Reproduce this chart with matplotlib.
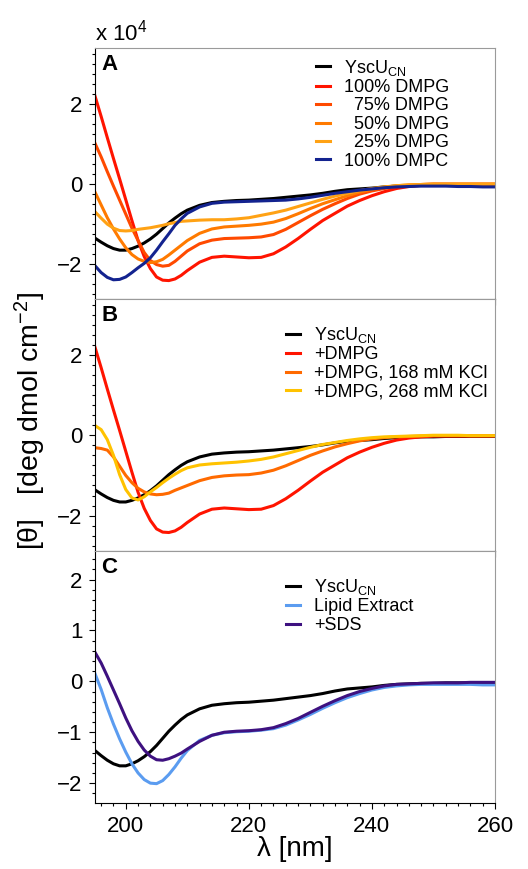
import numpy as np
import matplotlib
matplotlib.use('Agg')
import matplotlib.pyplot as plt
from matplotlib.ticker import MultipleLocator

plt.rcParams['font.family'] = ['Liberation Sans', 'DejaVu Sans']
plt.rcParams['mathtext.fontset'] = 'custom'
plt.rcParams['mathtext.rm'] = 'Liberation Sans'
plt.rcParams['mathtext.it'] = 'Liberation Sans:italic'
plt.rcParams['mathtext.bf'] = 'Liberation Sans:bold'

# wavelength grid (nm): 1 nm steps up to 210, then 2 nm
wl = np.r_[195:211, 212:261:2]

# mean residue ellipticity, units of 1e4 deg cm2 dmol-1
yscu = [-1.36, -1.46, -1.55, -1.62, -1.66, -1.66, -1.62, -1.56, -1.48, -1.38, -1.26, -1.12, -0.98, -0.86, -0.75, -0.66,
        -0.54, -0.47, -0.44, -0.42, -0.41, -0.39, -0.37, -0.34, -0.31, -0.28, -0.24, -0.19, -0.15, -0.13, -0.11,
        -0.08, -0.06, -0.05, -0.04, -0.04, -0.03, -0.03, -0.03, -0.03, -0.03]
dmpg100 = [2.19, 1.68, 1.15, 0.63, 0.12, -0.40, -0.92, -1.42, -1.82, -2.12, -2.33, -2.41, -2.42, -2.38, -2.29, -2.17,
           -1.96, -1.84, -1.81, -1.83, -1.85, -1.84, -1.75, -1.58, -1.37, -1.14, -0.92, -0.74, -0.56, -0.42, -0.30,
           -0.20, -0.12, -0.07, -0.04, -0.02, -0.02, -0.02, -0.02, -0.02, -0.02]
dmpg75 = [1.01, 0.67, 0.30, -0.06, -0.41, -0.76, -1.11, -1.42, -1.72, -1.92, -2.02, -2.06, -2.04, -1.94, -1.81, -1.68,
          -1.50, -1.41, -1.37, -1.36, -1.35, -1.33, -1.27, -1.14, -0.97, -0.80, -0.64, -0.50, -0.37, -0.26, -0.18,
          -0.12, -0.07, -0.04, -0.02, -0.01, -0.01, -0.01, -0.01, -0.01, -0.01]
dmpg50 = [-0.21, -0.53, -0.85, -1.13, -1.38, -1.60, -1.77, -1.88, -1.94, -1.97, -1.95, -1.89, -1.78, -1.66, -1.54, -1.42,
          -1.24, -1.13, -1.08, -1.06, -1.04, -1.01, -0.96, -0.87, -0.75, -0.62, -0.50, -0.40, -0.30, -0.21, -0.14,
          -0.09, -0.05, -0.03, -0.02, -0.01, -0.01, -0.01, -0.01, -0.01, -0.01]
dmpg25 = [-0.70, -0.86, -1.01, -1.11, -1.17, -1.18, -1.17, -1.14, -1.12, -1.10, -1.07, -1.04, -1.00, -0.97, -0.94, -0.93,
          -0.91, -0.90, -0.90, -0.88, -0.85, -0.79, -0.73, -0.66, -0.57, -0.48, -0.39, -0.31, -0.24, -0.17, -0.12,
          -0.08, -0.05, -0.03, -0.02, -0.01, -0.01, -0.01, -0.01, -0.01, -0.01]
dmpc100 = [-2.05, -2.22, -2.34, -2.40, -2.39, -2.33, -2.22, -2.10, -1.99, -1.85, -1.66, -1.45, -1.25, -1.04, -0.88, -0.74,
           -0.58, -0.49, -0.46, -0.45, -0.44, -0.43, -0.42, -0.41, -0.38, -0.34, -0.29, -0.24, -0.20, -0.16, -0.13,
           -0.10, -0.08, -0.07, -0.06, -0.06, -0.06, -0.07, -0.07, -0.08, -0.08]
kcl168 = [-0.31, -0.33, -0.37, -0.54, -0.77, -1.00, -1.18, -1.32, -1.41, -1.46, -1.48, -1.47, -1.44, -1.37, -1.31, -1.25,
          -1.13, -1.05, -1.01, -0.99, -0.98, -0.94, -0.87, -0.76, -0.63, -0.50, -0.39, -0.29, -0.21, -0.14, -0.09,
          -0.06, -0.04, -0.03, -0.02, -0.01, -0.01, -0.01, -0.01, -0.01, -0.01]
kcl268 = [0.24, 0.14, -0.11, -0.50, -0.98, -1.35, -1.56, -1.61, -1.53, -1.41, -1.30, -1.18, -1.07, -0.97, -0.88, -0.81,
          -0.74, -0.71, -0.69, -0.67, -0.64, -0.60, -0.54, -0.46, -0.38, -0.30, -0.23, -0.18, -0.13, -0.09, -0.06,
          -0.04, -0.03, -0.02, -0.01, 0.00, 0.00, 0.00, -0.01, -0.01, -0.01]
lipid = [0.15, -0.16, -0.52, -0.84, -1.13, -1.39, -1.62, -1.80, -1.93, -2.00, -2.01, -1.95, -1.83, -1.68, -1.51, -1.36,
         -1.16, -1.06, -1.01, -0.99, -0.98, -0.96, -0.93, -0.86, -0.76, -0.65, -0.53, -0.42, -0.32, -0.24, -0.17,
         -0.12, -0.09, -0.07, -0.06, -0.06, -0.06, -0.06, -0.06, -0.07, -0.07]
sds = [0.57, 0.36, 0.10, -0.17, -0.44, -0.72, -0.97, -1.18, -1.35, -1.47, -1.54, -1.55, -1.52, -1.47, -1.41, -1.33,
       -1.18, -1.06, -1.00, -0.98, -0.97, -0.95, -0.91, -0.83, -0.73, -0.61, -0.49, -0.38, -0.28, -0.20, -0.14,
       -0.09, -0.06, -0.05, -0.04, -0.03, -0.03, -0.03, -0.02, -0.02, -0.02]

yscu_lbl = 'YscU$_{\\mathrm{CN}}$'

panels = [
    ('A', (-2.88, 3.39), 2, 0.25, 0.5525, 0.962,
     [(yscu, yscu_lbl, 'black'),
      (dmpg100, '100% DMPG', '#ff1400'),
      (dmpg75, '  75% DMPG', '#ff4a00'),
      (dmpg50, '  50% DMPG', '#ff7a00'),
      (dmpg25, '  25% DMPG', '#ffa214'),
      (dmpc100, '100% DMPC', '#13238f')]),
    ('B', (-2.88, 3.39), 2, 0.25, 0.4775, 0.897,
     [(yscu, yscu_lbl, 'black'),
      (dmpg100, '+DMPG', '#ff1400'),
      (kcl168, '+DMPG, 168 mM KCl', '#ff6a00'),
      (kcl268, '+DMPG, 268 mM KCl', '#ffc200')]),
    ('C', (-2.39, 2.56), 1, 0.2, 0.4775, 0.897,
     [(yscu, yscu_lbl, 'black'),
      (lipid, 'Lipid Extract', '#5b9cf0'),
      (sds, '+SDS', '#3e1180')]),
]

fig = plt.figure(figsize=(5.28, 8.69), dpi=100)
tops = [48, 299, 551]
bots = [299, 551, 803]
axes = []
for (letter, ylim, major, minor, lx, ly, series), t, b in zip(panels, tops, bots):
    ax = fig.add_axes([95 / 528, 1 - b / 869, 400 / 528, (b - t) / 869])
    for vals, lbl, col in series:
        ax.plot(wl, vals, color=col, lw=2.2, label=lbl)
    ax.set_xlim(195, 260)
    ax.set_ylim(*ylim)
    ax.xaxis.set_major_locator(MultipleLocator(20))
    ax.xaxis.set_minor_locator(MultipleLocator(2))
    ax.yaxis.set_major_locator(MultipleLocator(major))
    ax.yaxis.set_minor_locator(MultipleLocator(minor))
    ax.tick_params(which='both', direction='out', top=False, right=False,
                   labelsize=16, width=0.8, pad=5)
    ax.tick_params(which='major', length=4)
    ax.tick_params(which='minor', length=2.5)
    for s in ['top', 'right']:
        ax.spines[s].set_color('#9a9a9a')
    ax.text(0.016, 0.978, letter, transform=ax.transAxes, fontsize=16,
            fontweight='bold', va='top', ha='left')
    ax.legend(loc='upper left', bbox_to_anchor=(lx, ly), frameon=False, fontsize=13,
              handlelength=0.75, handletextpad=0.8, labelspacing=0.08,
              borderpad=0, borderaxespad=0)
    axes.append(ax)

axA, axB, axC = axes
axA.tick_params(labelbottom=False)
axB.tick_params(labelbottom=False)
axA.text(0, 1.028, 'x 10$^{4}$', transform=axA.transAxes, fontsize=16,
         va='baseline', ha='left')
axC.set_xlabel('λ [nm]', fontsize=20, labelpad=0)
fig.text(30 / 528, 1 - 421 / 869, '[θ]   [deg dmol cm$^{-2}$]', rotation=90,
         fontsize=20.5, ha='center', va='center')

fig.savefig('out.png', dpi=100)
